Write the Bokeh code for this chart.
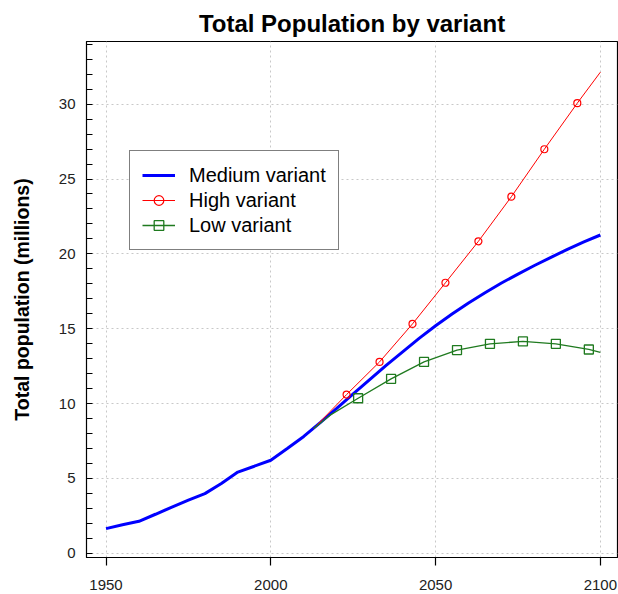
from bokeh.plotting import figure
from bokeh.models import Range1d, SingleIntervalTicker, FixedTicker
from bokeh.embed import file_html
from bokeh.resources import INLINE

# ---- data ----
medium_years = [1950, 1955, 1960, 1965, 1970, 1975, 1980, 1985, 1990, 1995, 2000,
                2005, 2010, 2015, 2020, 2025, 2030, 2035, 2040, 2045, 2050, 2055,
                2060, 2065, 2070, 2075, 2080, 2085, 2090, 2095, 2100]
medium_values = [1.64, 1.90, 2.13, 2.60, 3.08, 3.54, 3.98, 4.65, 5.42, 5.81, 6.21,
                 6.99, 7.80, 8.72, 9.68, 10.65, 11.60, 12.55, 13.45, 14.35, 15.20, 15.98,
                 16.72, 17.40, 18.05, 18.65, 19.22, 19.77, 20.30, 20.80, 21.26]

high_years = [2013, 2023, 2033, 2043, 2053, 2063, 2073, 2083, 2093, 2100]
high_values = [8.33, 10.60, 12.78, 15.32, 18.07, 20.84, 23.82, 26.99, 30.07, 32.14]

low_years = [2013, 2018, 2026.5, 2036.5, 2046.5, 2056.5, 2066.5, 2076.5, 2086.5, 2096.5, 2100]
low_values = [8.33, 9.22, 10.35, 11.65, 12.78, 13.57, 13.99, 14.15, 13.99, 13.61, 13.41]

x_ticks = [1950, 2000, 2050, 2100]

FONT = "Liberation Sans"
BLUE = "#0000ff"
RED = "#ff0000"
GREEN = "#1f7a1f"

p = figure(width=618, height=594, output_backend="svg", toolbar_location=None,
           x_range=Range1d(1944.08, 2105.2), y_range=Range1d(-0.29, 34.19),
           min_border_left=86, min_border_right=1, min_border_top=41, min_border_bottom=37)

p.title.text = "Total Population by variant"
p.title.align = "center"
p.title.text_font = FONT
p.title.text_font_size = "24px"
p.title.text_font_style = "bold"
p.title.text_color = "black"

p.outline_line_color = "black"
p.outline_line_width = 1.2
p.background_fill_color = "white"

# axes
p.xaxis.ticker = FixedTicker(ticks=x_ticks)
p.xaxis.major_tick_out = 8
p.xaxis.major_tick_in = 0
p.xaxis.minor_tick_line_color = None
p.xaxis.major_label_standoff = 14
p.xaxis.major_label_text_font = FONT
p.xaxis.major_label_text_font_size = "15px"
p.xaxis.major_label_text_color = "#222222"
p.xaxis.axis_line_color = "black"
p.xaxis.major_tick_line_color = "black"
p.xaxis.major_tick_line_width = 1.2

p.yaxis.ticker = SingleIntervalTicker(interval=5, num_minor_ticks=5)
p.yaxis.major_tick_line_color = None
p.yaxis.major_tick_out = 0
p.yaxis.major_tick_in = 0
p.yaxis.minor_tick_in = 6
p.yaxis.minor_tick_out = 0
p.yaxis.minor_tick_line_color = "black"
p.yaxis.major_label_standoff = 11
p.yaxis.major_label_text_font = FONT
p.yaxis.major_label_text_font_size = "15px"
p.yaxis.major_label_text_color = "#222222"
p.yaxis.axis_line_color = "black"
p.yaxis.axis_label = "Total population (millions)"
p.yaxis.axis_label_text_font = FONT
p.yaxis.axis_label_text_font_size = "19.5px"
p.yaxis.axis_label_text_font_style = "bold"
p.yaxis.axis_label_text_color = "black"
p.yaxis.axis_label_standoff = 23

p.xgrid.ticker = FixedTicker(ticks=x_ticks)
for g in (p.xgrid, p.ygrid):
    g.grid_line_color = "#c8c8c8"
    g.grid_line_dash = "2 3"
    g.grid_line_width = 1

# series
p.line(medium_years, medium_values, color=BLUE, line_width=3, legend_label="Medium variant")
p.line(high_years, high_values, color=RED, line_width=1, legend_label="High variant")
p.scatter(high_years[1:-1], high_values[1:-1], marker="circle", size=7,
          line_color=RED, fill_color=None, line_width=1.2, legend_label="High variant")
p.line(low_years, low_values, color=GREEN, line_width=1.3, legend_label="Low variant")
low_mk_years = low_years[2:-1]
low_mk_values = low_values[2:-1]
p.scatter(low_mk_years, low_mk_values, marker="square", size=9,
          line_color=GREEN, fill_color=None, line_width=1.3, legend_label="Low variant")

lg = p.legend[0]
lg.location = (43, 307)
lg.border_line_color = "black"
lg.border_line_width = 1.5
lg.background_fill_color = "white"
lg.background_fill_alpha = 1
lg.padding = 12
lg.spacing = 1
lg.margin = 0
lg.label_height = 24
lg.glyph_height = 24
lg.glyph_width = 33
lg.label_standoff = 14
lg.label_text_font = FONT
lg.label_text_font_size = "20px"
lg.label_text_color = "black"

open("out.html", "w").write(file_html(p, INLINE))
